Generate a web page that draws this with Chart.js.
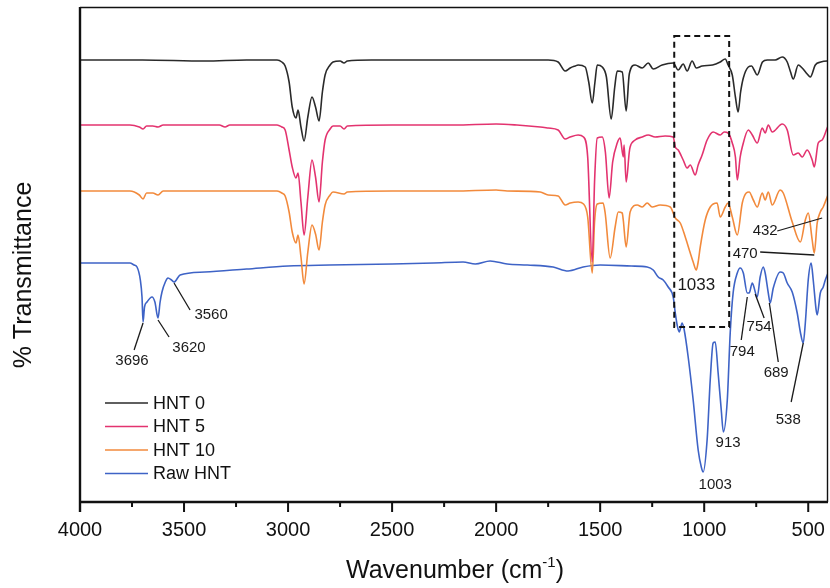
<!DOCTYPE html>
<html>
<head>
<meta charset="utf-8">
<script src="https://cdn.jsdelivr.net/npm/chart.js@4.4.1/dist/chart.umd.min.js"></script>
<style>
  html, body { margin: 0; padding: 0; background: #ffffff; }
  #wrap { width: 830px; height: 588px; position: relative; }
</style>
</head>
<body>
<div id="wrap"><canvas id="c" width="830" height="588"></canvas></div>
<script>
// ---------- DATA (wavenumber in cm^-1, transmittance in offset arbitrary units) ----------
const seriesNames = ["HNT 0", "HNT 5", "HNT 10", "Raw HNT"];

const hnt0Wn = [4000,3700,3400,3200,3053,3030,3014,2995,2980,2962,2952,2938,2923,2905,2885,2868,2851,2835,2822,2798,2784,2750,2731,2715,2600,2400,2200,2000,1788,1750,1702,1668,1644,1620,1606,1572,1555,1538,1525,1514,1490,1470,1447,1430,1418,1394,1375,1360,1332,1298,1269,1245,1202,1149,1125,1101,1082,1058,1038,1010,960,923,899,885,865,850,837,825,812,788,772,760,745,720,697,659,625,601,585,572,548,529,505,490,466,440,409,405];
const hnt0T  = [442,442,441,442,442,440,436,420,395,384,392,375,361,385,405,395,381,410,427,437,440,441,439,441,442,442,442,442,442,442,440,431,434,436,437,435,420,399,420,437,435,425,383,415,431,430,391,428,437,434,439,433,437,439,432,438,431,441,434,436,437,440,443,437,427,405,390,410,424,435,436,432,427,440,442,442,445,440,430,423,437,434,428,425,437,440,441,441];

const hnt5Wn = [4000,3760,3715,3697,3680,3650,3625,3600,3330,3303,3280,3053,3030,3014,2995,2980,2962,2952,2938,2923,2905,2885,2868,2851,2835,2822,2798,2784,2750,2731,2715,2500,2200,2000,1900,1788,1750,1702,1668,1644,1606,1580,1560,1538,1527,1514,1490,1475,1457,1440,1418,1404,1389,1385,1375,1360,1356,1332,1298,1269,1236,1188,1149,1139,1125,1101,1082,1067,1043,1029,1010,986,957,923,904,885,865,850,841,827,817,788,769,745,721,707,692,673,625,601,572,548,529,505,481,471,452,433,409,405];
const hnt5T  = [377,377,375,373,376,376,375,377,377,375,377,377,375,372,352,335,324,329,300,267,305,342,325,300,340,362,373,376,376,373,376,377,377,378,377,375,374,372,363,365,367,365,345,240,320,364,365,350,304,340,359,364,345,357,320,350,355,362,365,367,365,366,365,355,352,342,334,337,327,337,347,362,370,367,370,369,359,345,322,345,355,372,367,359,374,369,377,370,378,372,347,349,345,352,342,335,359,362,374,376];

const hnt10Wn = [4000,3760,3715,3697,3680,3650,3625,3600,3053,3030,3014,2995,2980,2962,2952,2938,2923,2905,2885,2868,2851,2835,2822,2798,2784,2731,2715,2500,2200,2000,1947,1788,1750,1702,1668,1644,1606,1580,1560,1538,1527,1514,1486,1476,1452,1428,1413,1394,1389,1375,1356,1322,1298,1274,1250,1212,1163,1139,1115,1091,1067,1053,1038,1029,1019,995,971,938,923,899,885,865,841,817,798,784,764,745,721,707,692,673,635,620,577,538,514,500,481,471,457,442,428,409,405];
const hnt10T  = [311,311,307,303,309,309,307,311,311,309,306,290,270,259,267,245,218,250,277,268,252,280,297,307,310,308,310,311,311,312,311,310,307,306,297,299,300,298,285,229,280,298,299,289,244,275,290,289,282,255,290,297,295,299,295,297,295,284,279,265,249,240,232,240,255,282,295,299,285,295,299,285,267,299,309,310,302,295,309,302,310,297,312,309,280,260,282,289,262,249,279,290,295,305,307];

const rawWn = [4000,3850,3760,3740,3726,3710,3702,3697,3690,3678,3654,3640,3625,3615,3606,3590,3577,3560,3548,3519,3400,3200,3000,2800,2500,2300,2159,2100,2029,1947,1850,1726,1654,1582,1500,1350,1274,1245,1221,1197,1173,1149,1139,1130,1120,1106,1096,1077,1053,1029,1014,1005,986,971,957,947,933,918,908,889,875,861,841,827,812,793,784,769,764,745,731,716,707,692,683,668,635,620,601,577,553,538,524,514,500,486,476,462,457,442,428,418,405];
const rawT  = [239,239,239,237,235,222,205,180,195,200,205,200,184,200,210,220,224,222,220,227,230,233,236,237,238,239,240,238,241,238,237,235,231,235,237,236,235,232,225,222,215,205,189,177,170,179,172,145,102,52,35,30,62,122,159,160,129,92,70,102,169,209,229,234,229,209,209,219,217,205,225,235,229,209,199,214,230,229,219,210,189,170,159,179,222,239,222,192,187,209,215,222,229];

const xTickValues = [4000,3500,3000,2500,2000,1500,1000,500];
const xMinorValues = [3750,3250,2750,2250,1750,1250,750];

// peak labels: text, text anchor (wn, T), optional leader line from (wn,T) to (wn,T)
const peakLabels = [
  {t:"3696", x:3750, y:141, l:[3740,152,3697,179]},
  {t:"3620", x:3476, y:154, l:[3572,165,3625,182]},
  {t:"3560", x:3370, y:187, l:[3471,192,3548,219]},
  {t:"1033", x:1038, y:217, l:null, big:true},
  {t:"432",  x:707,  y:271, l:[649,271,433,284]},
  {t:"470",  x:803,  y:248, l:[731,250,471,247]},
  {t:"794",  x:817,  y:150, l:[822,162,793,205]},
  {t:"754",  x:736,  y:175, l:[712,184,755,208]},
  {t:"689",  x:654,  y:129, l:[644,140,687,199]},
  {t:"538",  x:596,  y:82,  l:[582,100,524,159]},
  {t:"913",  x:885,  y:59,  l:null},
  {t:"1003", x:947,  y:17,  l:null}
];
const boxRegion = {wnHigh:1144, wnLow:880, tTop:466, tBottom:175};

const colors = ["#2a2a2a", "#e3336f", "#f28a3c", "#3e63c6"];
const FONT = "'Liberation Sans', Arial, Helvetica, sans-serif";

function pts(wn, t) { return wn.map((w, i) => ({x: w, y: t[i]})); }
const allWn = [hnt0Wn, hnt5Wn, hnt10Wn, rawWn];
const allT = [hnt0T, hnt5T, hnt10T, rawT];

const datasets = seriesNames.map((n, i) => ({
  label: n,
  data: pts(allWn[i], allT[i]),
  borderColor: colors[i],
  backgroundColor: colors[i],
  borderWidth: 1.6,
  pointRadius: 0,
  showLine: true,
  fill: false,
  cubicInterpolationMode: 'monotone'
}));

const decor = {
  id: 'decor',
  afterDatasetsDraw(chart) {
    const ctx = chart.ctx;
    const xs = chart.scales.x, ys = chart.scales.y;
    const a = chart.chartArea;
    ctx.save();
    // frame
    ctx.strokeStyle = '#111';
    ctx.lineWidth = 1.4;
    ctx.beginPath();
    ctx.moveTo(a.left, a.top + 0.5); ctx.lineTo(a.right, a.top + 0.5);
    ctx.moveTo(a.right - 0.5, a.top); ctx.lineTo(a.right - 0.5, a.bottom);
    ctx.stroke();
    ctx.lineWidth = 2.4;
    ctx.beginPath();
    ctx.moveTo(a.left, a.top); ctx.lineTo(a.left, a.bottom + 10);
    ctx.moveTo(a.left, a.bottom); ctx.lineTo(a.right, a.bottom);
    ctx.stroke();
    // ticks
    ctx.lineWidth = 2;
    ctx.beginPath();
    xTickValues.forEach(v => { const px = xs.getPixelForValue(v); ctx.moveTo(px, a.bottom); ctx.lineTo(px, a.bottom + 10); });
    xMinorValues.forEach(v => { const px = xs.getPixelForValue(v); ctx.moveTo(px, a.bottom); ctx.lineTo(px, a.bottom + 5); });
    ctx.stroke();

    // dashed box
    ctx.setLineDash([6, 4]);
    ctx.lineWidth = 2;
    ctx.strokeStyle = '#111';
    const bx1 = xs.getPixelForValue(boxRegion.wnHigh), bx2 = xs.getPixelForValue(boxRegion.wnLow);
    const by1 = ys.getPixelForValue(boxRegion.tTop), by2 = ys.getPixelForValue(boxRegion.tBottom);
    ctx.strokeRect(bx1, by1, bx2 - bx1, by2 - by1);
    ctx.setLineDash([]);

    // peak labels
    ctx.fillStyle = '#1a1a1a';
    ctx.strokeStyle = '#1a1a1a';
    ctx.lineWidth = 1.3;
    ctx.textAlign = 'center';
    ctx.textBaseline = 'middle';
    peakLabels.forEach(p => {
      ctx.font = (p.big ? '17px ' : '15px ') + FONT;
      ctx.fillText(p.t, xs.getPixelForValue(p.x), ys.getPixelForValue(p.y));
      if (p.l) {
        ctx.beginPath();
        ctx.moveTo(xs.getPixelForValue(p.l[0]), ys.getPixelForValue(p.l[1]));
        ctx.lineTo(xs.getPixelForValue(p.l[2]), ys.getPixelForValue(p.l[3]));
        ctx.stroke();
      }
    });

    // legend
    const lx0 = a.left + 25, lx1 = a.left + 68, ly0 = a.top + 396, dy = 23.5;
    ctx.font = '18px ' + FONT;
    ctx.textAlign = 'left';
    seriesNames.forEach((n, i) => {
      const y = ly0 + i * dy;
      ctx.strokeStyle = colors[i];
      ctx.lineWidth = 1.4;
      ctx.beginPath(); ctx.moveTo(lx0, y); ctx.lineTo(lx1, y); ctx.stroke();
      ctx.fillStyle = '#111';
      ctx.fillText(n, lx1 + 5, y + 1);
    });

    // axis titles
    ctx.fillStyle = '#111';
    ctx.font = '25px ' + FONT;
    ctx.textBaseline = 'alphabetic';
    const main = 'Wavenumber (cm', sup = '-1', close = ')';
    const wMain = ctx.measureText(main).width;
    const wClose = ctx.measureText(close).width;
    ctx.font = '15px ' + FONT;
    const wSup = ctx.measureText(sup).width;
    const total = wMain + wSup + wClose;
    const cx = (a.left + a.right) / 2 + 1;
    let sx = cx - total / 2;
    const baseY = 578;
    ctx.textAlign = 'left';
    ctx.font = '25px ' + FONT;
    ctx.fillText(main, sx, baseY);
    ctx.font = '15px ' + FONT;
    ctx.fillText(sup, sx + wMain, baseY - 11);
    ctx.font = '25px ' + FONT;
    ctx.fillText(close, sx + wMain + wSup, baseY);

    ctx.translate(24, 275);
    ctx.rotate(-Math.PI / 2);
    ctx.textAlign = 'center';
    ctx.textBaseline = 'middle';
    ctx.font = '25px ' + FONT;
    ctx.fillText('% Transmittance', 0, 0);
    ctx.restore();
  }
};

new Chart(document.getElementById('c'), {
  type: 'scatter',
  data: { datasets },
  options: {
    responsive: false,
    animation: false,
    devicePixelRatio: 1,
    layout: { padding: { left: 80, right: 2, top: 7, bottom: 0 } },
    plugins: { legend: { display: false }, tooltip: { enabled: false } },
    scales: {
      x: {
        type: 'linear',
        reverse: true,
        min: 405,
        max: 4000,
        grid: { display: false, drawTicks: false },
        border: { display: false },
        afterBuildTicks: (s) => { s.ticks = xTickValues.map(v => ({ value: v })); },
        afterFit: (s) => { s.height = 86; s.paddingLeft = 0; s.paddingRight = 0; },
        ticks: {
          autoSkip: false,
          maxRotation: 0,
          padding: 16,
          color: '#111',
          font: { size: 20, family: FONT },
          callback: (v) => String(v)
        }
      },
      y: {
        display: false,
        min: 0,
        max: 495
      }
    }
  },
  plugins: [decor]
});
</script>
</body>
</html>
